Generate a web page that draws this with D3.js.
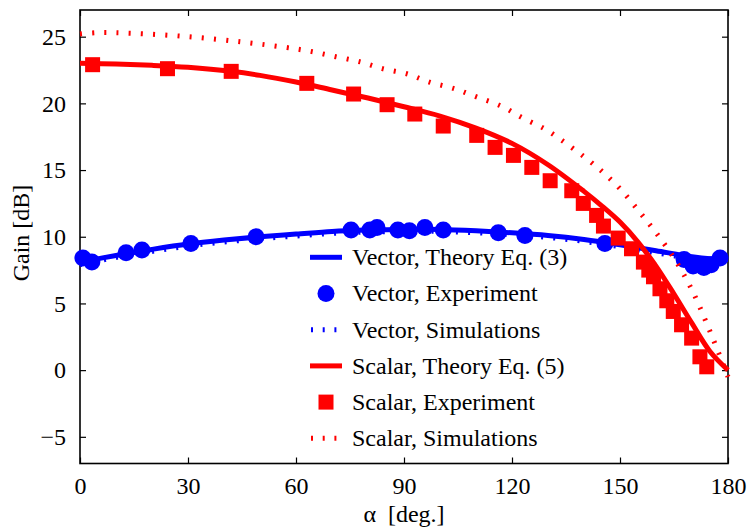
<!DOCTYPE html>
<html>
<head>
<meta charset="utf-8">
<script src="https://cdn.jsdelivr.net/npm/d3@7"></script>
<style>
  body { margin: 0; background: #fff; }
  text { font-family: "Liberation Serif", "Times New Roman", serif; }
</style>
</head>
<body>
<div id="gain-chart"></div>
<script>
// values
var vectorTheoryAngle = [0, 10, 20, 30, 40, 50, 60, 70, 80, 90, 100, 110, 120, 130, 140, 150, 160, 170, 175, 180];
var vectorTheoryGain  = [8.1, 8.6, 9.05, 9.45, 9.75, 10.0, 10.2, 10.4, 10.5, 10.55, 10.55, 10.45, 10.3, 10.1, 9.8, 9.4, 8.95, 8.5, 8.35, 8.3];

var vectorExpAngle = [0.8, 3.3, 12.8, 17.2, 30.8, 48.9, 75.3, 80.5, 82.5, 88.3, 91.5, 95.8, 100.9, 116.2, 123.6, 145.8, 167.8, 170.3, 173.3, 175.3, 177.8];
var vectorExpGain  = [8.4, 8.1, 8.8, 9.0, 9.5, 10.0, 10.5, 10.5, 10.7, 10.5, 10.45, 10.7, 10.5, 10.3, 10.1, 9.5, 8.3, 7.8, 7.7, 7.9, 8.4];

var vectorSimAngle = [0, 10, 20, 30, 40, 50, 60, 70, 80, 90, 100, 110, 120, 130, 140, 150, 160, 170, 175, 180];
var vectorSimGain  = [7.9, 8.45, 8.9, 9.3, 9.6, 9.85, 10.05, 10.25, 10.35, 10.4, 10.4, 10.3, 10.15, 9.95, 9.65, 9.25, 8.8, 8.35, 8.2, 8.15];

var scalarTheoryAngle = [0, 10, 20, 30, 42, 50, 60, 70, 80, 90, 100, 110, 120, 130, 140, 145, 150, 155, 160, 165, 170, 175, 180];
var scalarTheoryGain  = [23.0, 22.95, 22.85, 22.7, 22.4, 22.1, 21.6, 21.0, 20.4, 19.75, 19.05, 18.15, 17.0, 15.4, 13.4, 12.3, 11.1, 9.6, 7.8, 5.7, 3.5, 1.4, 0.0];

var scalarExpAngle = [3.5, 24.3, 42, 63, 76, 85.3, 93, 100.9, 110.2, 115.3, 120.4, 125.5, 130.6, 136.6, 139.8, 143.5, 145.4, 149.5, 153.2, 156.5, 158, 159.3, 161.1, 163, 164.8, 167.1, 169.9, 172.2, 174.1];
var scalarExpGain  = [22.9, 22.6, 22.4, 21.5, 20.7, 19.9, 19.2, 18.3, 17.6, 16.7, 16.1, 15.2, 14.2, 13.45, 12.5, 11.6, 10.8, 9.9, 9.1, 8.1, 7.5, 7.0, 6.1, 5.2, 4.4, 3.4, 2.4, 1.0, 0.25];

var scalarSimAngle = [0, 5, 15, 30, 45, 57, 64, 71, 78, 84, 91, 97, 104, 110, 117, 123, 129, 134, 140, 145, 150, 155, 160, 165, 170, 175, 180];
var scalarSimGain  = [25.2, 25.3, 25.25, 25.0, 24.6, 24.2, 23.9, 23.5, 23.1, 22.6, 22.2, 21.6, 21.1, 20.5, 19.8, 18.9, 18.1, 17.2, 16.0, 14.9, 13.6, 12.0, 10.3, 8.4, 6.0, 2.9, -0.5];

var xTicks = [0, 30, 60, 90, 120, 150, 180];
var yTicks = [-5, 0, 5, 10, 15, 20, 25];

var legendLabels = ["Vector, Theory Eq. (3)", "Vector, Experiment", "Vector, Simulations",
                    "Scalar, Theory Eq. (5)", "Scalar, Experiment", "Scalar, Simulations"];

var margin = {top: 10, right: 20, bottom: 65.5, left: 80},
    width = 748 - margin.left - margin.right,
    height = 529 - margin.top - margin.bottom;

var svg = d3.select("#gain-chart")
  .append("svg")
    .attr("width", width + margin.left + margin.right)
    .attr("height", height + margin.top + margin.bottom)
  .append("g")
    .attr("transform", "translate(" + margin.left + "," + margin.top + ")");

var x = d3.scaleLinear().domain([0, 180]).range([0, width]);
var y = d3.scaleLinear().domain([-7, 27]).range([height, 0]);

function zipPts(a, g) {
  return a.map(function(v, i) { return [v, g[i]]; });
}

var line = d3.line()
  .x(function(d) { return x(d[0]); })
  .y(function(d) { return y(d[1]); })
  .curve(d3.curveCatmullRom.alpha(0.5));

var dotted = "2,10.2";

// axes, ticks inward on all four sides
var tickFont = "24px";
svg.append("g")
  .attr("transform", "translate(0," + height + ")")
  .call(d3.axisBottom(x).tickValues(xTicks).tickSizeInner(-6).tickSizeOuter(0).tickPadding(13))
  .call(function(g) { g.selectAll("text").style("font-size", tickFont).attr("fill", "#000"); });
svg.append("g")
  .call(d3.axisTop(x).tickValues(xTicks).tickSizeInner(-6).tickSizeOuter(0).tickFormat(""));
svg.append("g")
  .call(d3.axisLeft(y).tickValues(yTicks).tickSizeInner(-6).tickSizeOuter(0).tickPadding(14))
  .call(function(g) { g.selectAll("text").style("font-size", tickFont).attr("fill", "#000"); });
svg.append("g")
  .attr("transform", "translate(" + width + ",0)")
  .call(d3.axisRight(y).tickValues(yTicks).tickSizeInner(-6).tickSizeOuter(0).tickFormat(""));
svg.selectAll(".domain").remove();
svg.selectAll(".tick line").attr("stroke", "#000").attr("stroke-width", 1.2);

svg.append("rect")
  .attr("width", width)
  .attr("height", height)
  .attr("fill", "none")
  .attr("stroke", "#000")
  .attr("stroke-width", 1.6);

// series
var plot = svg.append("g");

plot.append("path")
  .datum(zipPts(vectorTheoryAngle, vectorTheoryGain))
  .attr("d", line).attr("fill", "none")
  .attr("stroke", "#0000ff").attr("stroke-width", 5);

plot.selectAll(".vexp")
  .data(zipPts(vectorExpAngle, vectorExpGain))
  .enter()
  .append("circle")
    .attr("cx", function(d) { return x(d[0]); })
    .attr("cy", function(d) { return y(d[1]); })
    .attr("r", 8.5)
    .attr("fill", "#0000ff");

plot.append("path")
  .datum(zipPts(vectorSimAngle, vectorSimGain))
  .attr("d", line).attr("fill", "none")
  .attr("stroke", "#0000ff").attr("stroke-width", 5)
  .attr("stroke-dasharray", dotted);

plot.append("path")
  .datum(zipPts(scalarTheoryAngle, scalarTheoryGain))
  .attr("d", line).attr("fill", "none")
  .attr("stroke", "#ff0000").attr("stroke-width", 5);

plot.selectAll(".sexp")
  .data(zipPts(scalarExpAngle, scalarExpGain))
  .enter()
  .append("rect")
    .attr("x", function(d) { return x(d[0]) - 7.5; })
    .attr("y", function(d) { return y(d[1]) - 7.5; })
    .attr("width", 15)
    .attr("height", 15)
    .attr("fill", "#ff0000");

plot.append("path")
  .datum(zipPts(scalarSimAngle, scalarSimGain))
  .attr("d", line).attr("fill", "none")
  .attr("stroke", "#ff0000").attr("stroke-width", 5)
  .attr("stroke-dasharray", dotted);

// legend (no box)
var legend = svg.append("g").attr("transform", "translate(230,247.3)");
var rowH = 36.2;
legendLabels.forEach(function(lbl, i) {
  var row = legend.append("g").attr("transform", "translate(0," + (i * rowH) + ")");
  var col = i < 3 ? "#0000ff" : "#ff0000";
  var kind = i % 3;
  if (kind === 0) {
    row.append("line").attr("x1", 0).attr("x2", 32).attr("stroke", col).attr("stroke-width", 5);
  } else if (kind === 2) {
    row.append("line").attr("x1", 1).attr("x2", 32).attr("stroke", col).attr("stroke-width", 5)
      .attr("stroke-dasharray", "2,9.7");
  } else if (i < 3) {
    row.append("circle").attr("cx", 16).attr("r", 8.5).attr("fill", col);
  } else {
    row.append("rect").attr("x", 8.5).attr("y", -7.5).attr("width", 15).attr("height", 15).attr("fill", col);
  }
  row.append("text")
    .attr("x", 42)
    .attr("dy", "0.33em")
    .style("font-size", "24px")
    .text(lbl);
});

// axis titles
svg.append("text")
  .attr("x", width / 2)
  .attr("y", height + 58)
  .attr("text-anchor", "middle")
  .style("font-size", "24px")
  .style("white-space", "pre")
  .text("\u03b1  [deg.]");

svg.append("text")
  .attr("transform", "rotate(-90)")
  .attr("x", -223)
  .attr("y", -51)
  .attr("text-anchor", "middle")
  .style("font-size", "24px")
  .text("Gain [dB]");
</script>
</body>
</html>
